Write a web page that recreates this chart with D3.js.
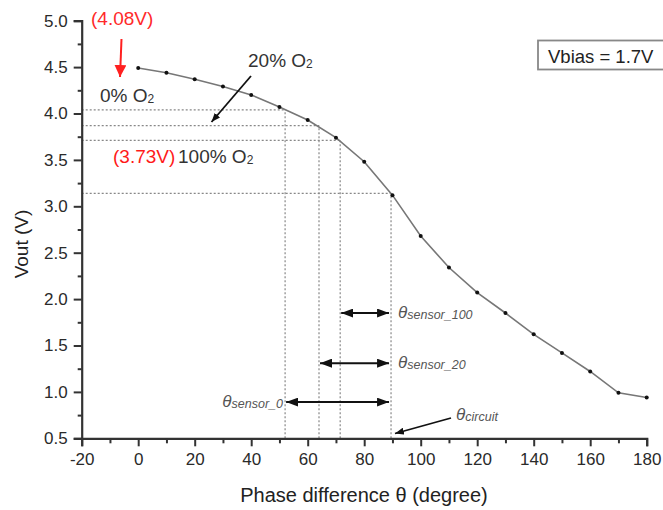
<!DOCTYPE html>
<html>
<head>
<meta charset="utf-8">
<script src="https://cdn.jsdelivr.net/npm/d3@7"></script>
<style>
  body { margin: 0; background: #fff; }
  text { font-family: "Liberation Sans", Arial, sans-serif; }
</style>
</head>
<body>
<script>
// measured curve: Vout vs phase difference
const phase = [0, 10, 20, 30, 40, 50, 60, 70, 80, 90, 100, 110, 120, 130, 140, 150, 160, 170, 180];
const vout = [4.49, 4.44, 4.37, 4.29, 4.20, 4.07, 3.93, 3.74, 3.48, 3.12, 2.68, 2.34, 2.07, 1.85, 1.62, 1.42, 1.22, 0.99, 0.94];

// dotted guide lines (theta on x, Vout on y)
const guideTheta = [52, 64, 71.5, 89.5];
const guideVout = [4.04, 3.87, 3.71, 3.14];

// double arrows
const spanStart = [71.5, 64, 52];
const spanEnd = [89.5, 89.5, 89.5];
const spanVout = [1.85, 1.31, 0.89];
const spanLabel = ['sensor_100', 'sensor_20', 'sensor_0'];

const xTicks = [-20, 0, 20, 40, 60, 80, 100, 120, 140, 160, 180];
const yTicks = [0.5, 1.0, 1.5, 2.0, 2.5, 3.0, 3.5, 4.0, 4.5, 5.0];

var width = 663, height = 510;

var svg = d3.select('body').append('svg')
  .attr('width', width)
  .attr('height', height);

var x = d3.scaleLinear().domain([-20, 180]).range([81.7, 646.7]);
var y = d3.scaleLinear().domain([0.5, 5]).range([438.3, 20.7]);

// markers
var defs = svg.append('defs');
function marker(id, color, w, h) {
  defs.append('marker')
    .attr('id', id)
    .attr('viewBox', '0 0 ' + w + ' ' + h)
    .attr('refX', w).attr('refY', h / 2)
    .attr('markerWidth', w).attr('markerHeight', h)
    .attr('markerUnits', 'userSpaceOnUse')
    .attr('orient', 'auto-start-reverse')
    .append('path')
    .attr('d', 'M0,0L' + w + ',' + (h / 2) + 'L0,' + h + 'Z')
    .attr('fill', color);
}
marker('headBig', '#111', 12, 9);
marker('headSmall', '#111', 9, 7);
marker('headRed', '#ff2020', 12, 12);

// dotted guides
var guides = svg.append('g')
  .attr('stroke', '#888')
  .attr('stroke-width', 1.2)
  .attr('stroke-dasharray', '2,2');

guideTheta.forEach(function (t, i) {
  guides.append('line')
    .attr('x1', x(-20)).attr('x2', x(t))
    .attr('y1', y(guideVout[i])).attr('y2', y(guideVout[i]));
  guides.append('line')
    .attr('x1', x(t)).attr('x2', x(t))
    .attr('y1', y(0.5)).attr('y2', y(guideVout[i]));
});

// axes
var axisColor = '#333';
svg.append('g')
  .attr('transform', 'translate(0,' + y(0.5) + ')')
  .call(d3.axisBottom(x).tickValues(xTicks).tickSize(8).tickPadding(7).tickFormat(function (d) { return String(d); }));
svg.append('g')
  .attr('transform', 'translate(0,' + y(0.5) + ')')
  .call(d3.axisBottom(x).tickValues(d3.range(-10, 180, 20)).tickSize(5).tickFormat(''))
  .select('.domain').remove();

svg.append('g')
  .attr('transform', 'translate(' + x(-20) + ',0)')
  .call(d3.axisLeft(y).tickValues(yTicks).tickSize(8).tickPadding(6).tickFormat(function (d) { return d.toFixed(1); }));
svg.append('g')
  .attr('transform', 'translate(' + x(-20) + ',0)')
  .call(d3.axisLeft(y).tickValues(d3.range(0.75, 5, 0.5)).tickSize(4).tickFormat(''))
  .select('.domain').remove();

svg.selectAll('.domain').attr('stroke', axisColor).attr('stroke-width', 2.2);
svg.selectAll('.tick line').attr('stroke', axisColor).attr('stroke-width', 2);
svg.selectAll('.tick text')
  .attr('fill', '#2a2a2a')
  .style('font-size', '17px')
  .style('font-family', '"Liberation Sans", Arial, sans-serif');

// axis titles
svg.append('text')
  .attr('x', 364).attr('y', 502)
  .attr('text-anchor', 'middle')
  .attr('fill', '#222')
  .style('font-size', '20px')
  .text('Phase difference θ (degree)');

svg.append('text')
  .attr('transform', 'translate(28,244) rotate(-90)')
  .attr('text-anchor', 'middle')
  .attr('fill', '#222')
  .style('font-size', '19px')
  .text('Vout (V)');

// curve
var line = d3.line()
  .x(function (d, i) { return x(phase[i]); })
  .y(function (d) { return y(d); });

svg.append('path')
  .datum(vout)
  .attr('d', line)
  .attr('fill', 'none')
  .attr('stroke', '#777')
  .attr('stroke-width', 1.6);

svg.append('g').selectAll('circle')
  .data(vout)
  .join('circle')
  .attr('cx', function (d, i) { return x(phase[i]); })
  .attr('cy', function (d) { return y(d); })
  .attr('r', 2)
  .attr('fill', '#111');

// double arrows with theta labels
spanStart.forEach(function (s, i) {
  svg.append('line')
    .attr('x1', x(s) + 1).attr('x2', x(spanEnd[i]) - 2)
    .attr('y1', y(spanVout[i])).attr('y2', y(spanVout[i]))
    .attr('stroke', '#111')
    .attr('stroke-width', 2)
    .attr('marker-start', 'url(#headBig)')
    .attr('marker-end', 'url(#headBig)');
});

function thetaLabel(px, py, sub, anchor) {
  var t = svg.append('text')
    .attr('x', px).attr('y', py)
    .attr('text-anchor', anchor)
    .attr('fill', '#555')
    .style('font-style', 'italic');
  t.append('tspan').style('font-size', '17px').text('θ');
  t.append('tspan').style('font-size', '12.5px').attr('dy', 1).text(sub);
}
thetaLabel(398, y(spanVout[0]) + 5, spanLabel[0], 'start');
thetaLabel(398, y(spanVout[1]) + 5, spanLabel[1], 'start');
thetaLabel(283, y(spanVout[2]) + 5, spanLabel[2], 'end');
thetaLabel(456, 420, 'circuit', 'start');

// theta circuit pointer
svg.append('line')
  .attr('x1', 451).attr('y1', 418)
  .attr('x2', 395).attr('y2', 433.5)
  .attr('stroke', '#111').attr('stroke-width', 1.8)
  .attr('marker-end', 'url(#headSmall)');

// oxygen labels
var big = '19px';
function o2Label(px, py, txt) {
  var t = svg.append('text')
    .attr('x', px).attr('y', py)
    .attr('fill', '#333')
    .style('font-size', big);
  t.append('tspan').text(txt + ' O');
  t.append('tspan').style('font-size', '12px').attr('dy', 1).text('2');
  return t;
}
o2Label(100, 102, '0%');
o2Label(248, 67, '20%');
o2Label(178, 163, '100%');

svg.append('text')
  .attr('x', 91).attr('y', 25)
  .attr('fill', '#ff2a2a')
  .style('font-size', big)
  .text('(4.08V)');

svg.append('text')
  .attr('x', 113).attr('y', 163)
  .attr('fill', '#ff1a1a')
  .style('font-size', big)
  .text('(3.73V)');

// red arrow to 0% O2
svg.append('line')
  .attr('x1', 121.5).attr('y1', 39)
  .attr('x2', 120).attr('y2', 77)
  .attr('stroke', '#ff2020').attr('stroke-width', 2)
  .attr('marker-end', 'url(#headRed)');

// black arrow to 20% O2 line
svg.append('line')
  .attr('x1', 251).attr('y1', 76)
  .attr('x2', 211.5).attr('y2', 122)
  .attr('stroke', '#111').attr('stroke-width', 1.8)
  .attr('marker-end', 'url(#headSmall)');

// Vbias box (box runs off the right edge, text kept inside)
svg.append('rect')
  .attr('x', 538).attr('y', 40.5)
  .attr('width', 140).attr('height', 29)
  .attr('fill', '#fff')
  .attr('stroke', '#888')
  .attr('stroke-width', 1.8);
svg.append('text')
  .attr('x', 548).attr('y', 62.5)
  .attr('fill', '#222')
  .style('font-size', '18.5px')
  .text('Vbias = 1.7V');
</script>
</body>
</html>
